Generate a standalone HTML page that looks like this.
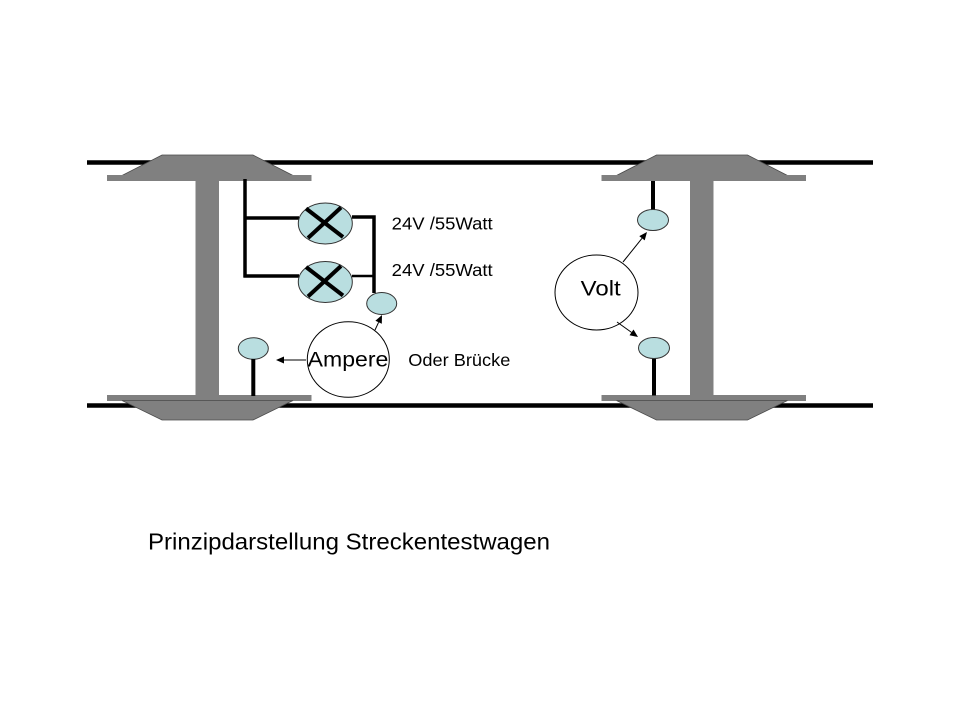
<!DOCTYPE html>
<html><head><meta charset="utf-8"><style>
html,body{margin:0;padding:0;background:#fff;}
svg{display:block;}
text{font-family:"Liberation Sans",Arial,sans-serif;fill:#000;}
</style></head><body>
<svg width="960" height="720" viewBox="0 0 960 720" xmlns="http://www.w3.org/2000/svg">
<rect width="960" height="720" fill="#fff"/>
<!-- rails -->
<line x1="87" y1="162.5" x2="873" y2="162.5" stroke="#000" stroke-width="4.5"/>
<line x1="87" y1="405.5" x2="873" y2="405.5" stroke="#000" stroke-width="4.5"/>

<!-- left wheel -->
<g id="wheel">
<polygon points="162,155 253,155 293,175.5 122,175.5" fill="#808080" stroke="#4a4a4a" stroke-width="0.8"/>
<rect x="107" y="175" width="204.5" height="6" fill="#808080"/>
<rect x="195.5" y="180" width="23.5" height="216" fill="#808080"/>
<rect x="107" y="395" width="204.5" height="6" fill="#808080"/>
<polygon points="122,400.5 293,400.5 253,420 162,420" fill="#808080" stroke="#4a4a4a" stroke-width="0.8"/>
</g>
<!-- right wheel -->
<use href="#wheel" transform="translate(494.5,0)"/>

<!-- lamp wiring -->
<g stroke="#000" stroke-width="3.5" fill="none">
<polyline points="245,179 245,277.5"/>
<line x1="243.5" y1="218" x2="299" y2="218"/>
<line x1="243.5" y1="276" x2="299" y2="276"/>
<polyline points="352,217 374,217 374,293"/>
</g>
<line x1="352" y1="276" x2="374" y2="276" stroke="#000" stroke-width="2.5"/>

<!-- lamps -->
<ellipse cx="325.3" cy="223.5" rx="27" ry="20.5" fill="#b9dee0" stroke="#333" stroke-width="1"/>
<ellipse cx="325.3" cy="282" rx="27" ry="20.5" fill="#b9dee0" stroke="#333" stroke-width="1"/>
<g stroke="#000" stroke-width="4" stroke-linecap="butt">
<line x1="306" y1="208.5" x2="343" y2="237"/>
<line x1="341" y1="207.5" x2="308" y2="238"/>
<line x1="306" y1="267" x2="343" y2="295.5"/>
<line x1="341" y1="266" x2="308" y2="296.5"/>
</g>

<!-- small contacts left -->
<ellipse cx="381.7" cy="303.5" rx="15" ry="11" fill="#b9dee0" stroke="#333" stroke-width="1"/>
<ellipse cx="253.3" cy="348.5" rx="15" ry="10.8" fill="#b9dee0" stroke="#333" stroke-width="1"/>
<line x1="253.3" y1="359" x2="253.3" y2="396" stroke="#000" stroke-width="4"/>

<!-- Ampere circle -->
<ellipse cx="348.3" cy="359.5" rx="41" ry="37.8" fill="#fff" stroke="#000" stroke-width="1"/>
<text x="307.7" y="366.7" font-size="21" textLength="80.6" lengthAdjust="spacingAndGlyphs">Ampere</text>

<!-- arrows left -->
<line x1="306" y1="360" x2="283" y2="360" stroke="#000" stroke-width="1"/>
<polygon points="276,360 284,356.5 284,363.5" fill="#000"/>
<line x1="375" y1="330" x2="378.6" y2="322.3" stroke="#000" stroke-width="1"/>
<polygon points="382,315 381.8,323.7 375.4,320.8" fill="#000"/>

<!-- right contacts -->
<line x1="653" y1="181" x2="653" y2="210" stroke="#000" stroke-width="4"/>
<ellipse cx="653" cy="220" rx="15.5" ry="10.5" fill="#b9dee0" stroke="#333" stroke-width="1"/>
<line x1="654" y1="357" x2="654" y2="395.5" stroke="#000" stroke-width="4"/>
<ellipse cx="654" cy="348" rx="15.5" ry="10.5" fill="#b9dee0" stroke="#333" stroke-width="1"/>

<!-- Volt circle -->
<ellipse cx="596.5" cy="292.5" rx="41.5" ry="37.5" fill="#fff" stroke="#000" stroke-width="1"/>
<text x="580.7" y="295.7" font-size="21" textLength="40" lengthAdjust="spacingAndGlyphs">Volt</text>
<line x1="623" y1="262" x2="642" y2="238.3" stroke="#000" stroke-width="1"/>
<polygon points="647,232 644.7,240.4 639.3,236.1" fill="#000"/>
<line x1="617" y1="322" x2="631.5" y2="332.4" stroke="#000" stroke-width="1"/>
<polygon points="638,337 629.5,335.2 633.5,329.5" fill="#000"/>

<!-- labels -->
<text x="391.7" y="229.3" font-size="17.5" textLength="101" lengthAdjust="spacingAndGlyphs">24V /55Watt</text>
<text x="391.7" y="276" font-size="17.5" textLength="101" lengthAdjust="spacingAndGlyphs">24V /55Watt</text>
<text x="408.3" y="366" font-size="17.5" textLength="102" lengthAdjust="spacingAndGlyphs">Oder Brücke</text>

<text x="148" y="549.3" font-size="23" textLength="402" lengthAdjust="spacingAndGlyphs">Prinzipdarstellung Streckentestwagen</text>
</svg>
</body></html>
